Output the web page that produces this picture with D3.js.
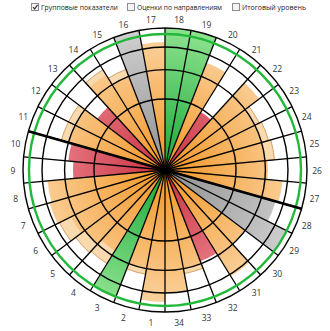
<!DOCTYPE html>
<html>
<head>
<meta charset="utf-8">
<script src="https://cdn.jsdelivr.net/npm/d3@7"></script>
<style>
  body { margin: 0; background: #fff; }
  svg { display: block; }
</style>
</head>
<body>
<div class="chart"></div>
<script>
// sector labels 1..34 (clockwise from the bottom)
var sectors = d3.range(1, 35);
// level reached by each sector
var fillValues = [3.46, 1.98, 3.67, 1.79, 1.98, 2.19, 2.86, 2.76, 1.68, 1.87,
                  1.98, 1.98, 1.43, 2.49, 1.98, 4.0, 3.25, 4.0, 4.0, 2.62,
                  0.92, 2.76, 1.98, 1.98, 1.98, 2.1, 2.76, 2.62, 3.67, 1.98,
                  3.1, 1.9, 1.98, 3.0];
// o = orange, r = red, g = green, s = grey
var fillKinds = ["o","o","g","o","o","o","o","o","r","r",
                 "o","o","r","o","o","s","o","g","g","o",
                 "r","o","o","o","o","o","o","s","s","o",
                 "o","r","o","o"];
// lighter outer band (0 = none)
var bandValues = [0, 2.23, 0, 2.4, 2.49, 2.76, 0, 0, 0, 0,
                  2.31, 2.31, 0, 2.76, 2.31, 0, 0, 0, 0, 0,
                  0, 0, 2.2, 2.3, 2.4, 0, 0, 0, 0, 0,
                  0, 0, 2.2, 0];
var ringLevels = [1, 2, 3, 4];
var targetLevel = 3.67;
var legendItems = ["Групповые показатели", "Оценки по направлениям", "Итоговый уровень"];
var legendChecked = [true, false, false];

var svgWidth = 330;
var svgHeight = 331;
var cx = 165, cy = 170;
var outerR = 142;

var svg = d3.select(".chart")
  .append("svg")
  .attr("width", svgWidth)
  .attr("height", svgHeight);

var rScale = d3.scaleSqrt().domain([0, 4]).range([0, outerR]);
var step = 2 * Math.PI / sectors.length;
var angle = i => Math.PI + i * step;

// gradients
var defs = svg.append("defs");
var palette = {
  o: ["#f29422", "#fbd6a6"],
  r: ["#c9303e", "#ef8f98"],
  g: ["#16a838", "#8ee28e"],
  s: ["#8f8f8f", "#cfcfcf"]
};
Object.keys(palette).forEach(function(k) {
  var g = defs.append("radialGradient")
    .attr("id", "grad-" + k)
    .attr("gradientUnits", "userSpaceOnUse")
    .attr("cx", 0).attr("cy", 0).attr("r", outerR);
  g.append("stop").attr("offset", "0%").attr("stop-color", palette[k][0]);
  g.append("stop").attr("offset", "100%").attr("stop-color", palette[k][1]);
});

var chartGroup = svg.append("g")
  .attr("transform", `translate(${cx}, ${cy})`);

var arc = d3.arc().innerRadius(0);

// outer light bands
chartGroup.selectAll(".band")
  .data(sectors.filter((d, i) => bandValues[i] > 0))
  .enter()
  .append("path")
  .attr("class", "band")
  .attr("d", d => arc.outerRadius(rScale(bandValues[d - 1]))
    .startAngle(angle(d - 1)).endAngle(angle(d))())
  .attr("fill", "#f9d9ae")
  .attr("stroke", "#c98c4a")
  .attr("stroke-width", 0.8);

// main fills
chartGroup.selectAll(".fill")
  .data(sectors)
  .enter()
  .append("path")
  .attr("class", "fill")
  .attr("d", d => arc.outerRadius(rScale(fillValues[d - 1]))
    .startAngle(angle(d - 1)).endAngle(angle(d))())
  .attr("fill", d => "url(#grad-" + fillKinds[d - 1] + ")");

// rings
chartGroup.selectAll(".ring")
  .data(ringLevels)
  .enter()
  .append("circle")
  .attr("r", d => rScale(d))
  .attr("fill", "none")
  .attr("stroke", "#000")
  .attr("stroke-width", 1.4);

// spokes
chartGroup.selectAll(".spoke")
  .data(sectors)
  .enter()
  .append("line")
  .attr("x1", 0).attr("y1", 0)
  .attr("x2", d => outerR * Math.sin(angle(d - 1)))
  .attr("y2", d => -outerR * Math.cos(angle(d - 1)))
  .attr("stroke", "#000")
  .attr("stroke-width", 1.3);

// target level
chartGroup.append("circle")
  .attr("r", rScale(targetLevel))
  .attr("fill", "none")
  .attr("stroke", "#22b83a")
  .attr("stroke-width", 2.4);

// thick divider between 10/11 and 27/28
var a1 = angle(10);
chartGroup.append("line")
  .attr("x1", outerR * Math.sin(a1)).attr("y1", -outerR * Math.cos(a1))
  .attr("x2", -outerR * Math.sin(a1)).attr("y2", outerR * Math.cos(a1))
  .attr("stroke", "#000")
  .attr("stroke-width", 2.6);

chartGroup.append("circle").attr("r", 4).attr("fill", "#000");

// sector labels
chartGroup.selectAll(".lbl")
  .data(sectors)
  .enter()
  .append("text")
  .attr("x", d => 152 * Math.sin(angle(d - 0.5)))
  .attr("y", d => -152 * Math.cos(angle(d - 0.5)) + 1.5)
  .attr("dy", "0.35em")
  .style("font-family", "'Open Sans', sans-serif")
  .style("font-size", "8.5px")
  .style("text-anchor", "middle")
  .style("fill", "#333")
  .text(d => d);

// legend
var legendX = [31, 127, 232];
var legendW = [77, 85, 64];
var legend = svg.selectAll(".legend")
  .data(legendItems)
  .enter()
  .append("g")
  .attr("transform", (d, i) => `translate(${legendX[i]}, 3)`);
legend.append("rect")
  .attr("width", 7).attr("height", 7)
  .attr("x", 0.5).attr("y", 0.5)
  .attr("fill", "#f4f4f4")
  .attr("stroke", "#8c8c8c")
  .attr("stroke-width", 1);
legend.filter((d, i) => legendChecked[i])
  .append("path")
  .attr("d", "M2,4 L3.6,6 L6.5,1.8")
  .attr("fill", "none")
  .attr("stroke", "#333")
  .attr("stroke-width", 1.2);
legend.append("text")
  .attr("x", 10).attr("y", 4.5)
  .attr("dy", "0.35em")
  .attr("textLength", (d, i) => legendW[i])
  .attr("lengthAdjust", "spacingAndGlyphs")
  .style("font-family", "'Open Sans', sans-serif")
  .style("font-size", "8px")
  .style("fill", "#222")
  .text(d => d);
</script>
</body>
</html>
